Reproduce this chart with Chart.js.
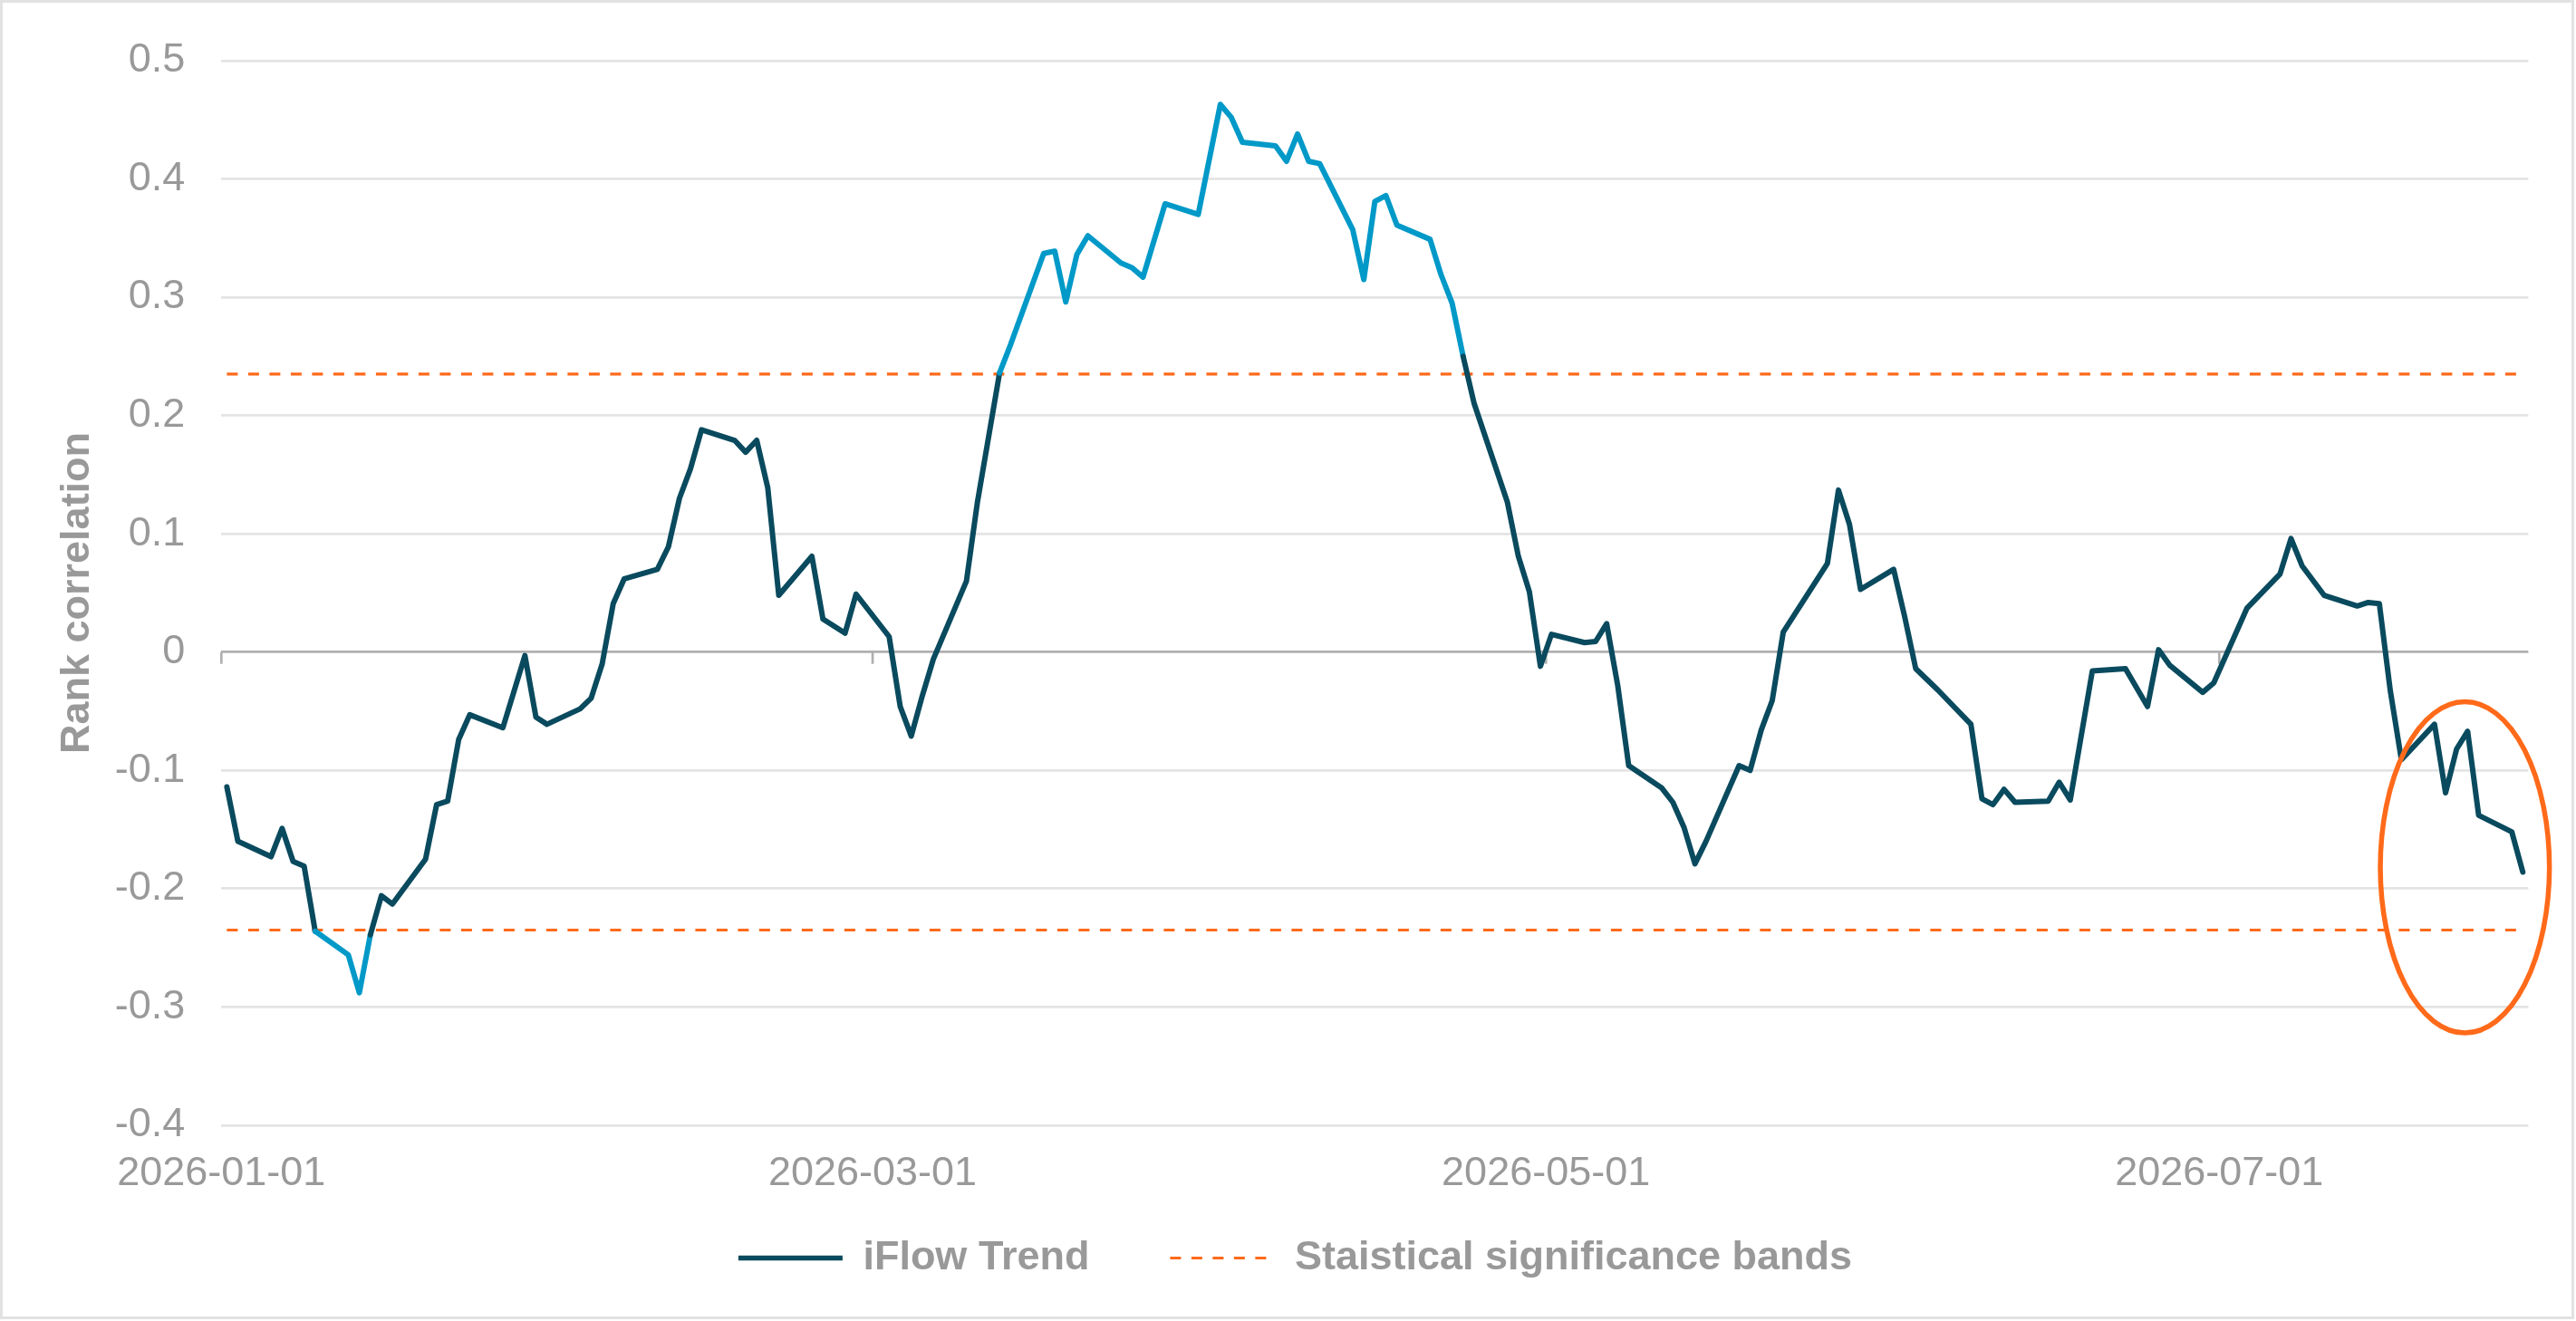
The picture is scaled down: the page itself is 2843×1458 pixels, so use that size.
<!DOCTYPE html>
<html>
<head>
<meta charset="utf-8">
<script src="https://cdn.jsdelivr.net/npm/chart.js@4.4.1/dist/chart.umd.min.js"></script>
<style>
  html, body { margin: 0; padding: 0; background: #ffffff; overflow: hidden; }
  #wrap { width: 2843px; height: 1458px; position: relative; }
</style>
</head>
<body>
<div id="wrap"><canvas id="chart" width="2843" height="1458"></canvas></div>
<script>
// ---------------- DATA ----------------
const dates = [
  '2026-01-01','2026-01-02','2026-01-05','2026-01-06','2026-01-07','2026-01-08','2026-01-09',
  '2026-01-12','2026-01-13','2026-01-14','2026-01-15','2026-01-16','2026-01-19','2026-01-20',
  '2026-01-21','2026-01-22','2026-01-23','2026-01-26','2026-01-28','2026-01-29','2026-01-30',
  '2026-02-02','2026-02-03','2026-02-04','2026-02-05','2026-02-06','2026-02-09','2026-02-10',
  '2026-02-11','2026-02-12','2026-02-13','2026-02-16','2026-02-17','2026-02-18','2026-02-19',
  '2026-02-20','2026-02-23','2026-02-24','2026-02-25','2026-02-26','2026-02-27','2026-03-02',
  '2026-03-03','2026-03-04','2026-03-05','2026-03-06','2026-03-09','2026-03-10','2026-03-12',
  '2026-03-13','2026-03-16','2026-03-17','2026-03-18','2026-03-19','2026-03-20','2026-03-23',
  '2026-03-24','2026-03-25','2026-03-27','2026-03-30','2026-04-01','2026-04-02','2026-04-03',
  '2026-04-06','2026-04-07','2026-04-08','2026-04-09','2026-04-10','2026-04-13','2026-04-14',
  '2026-04-15','2026-04-16','2026-04-17','2026-04-20','2026-04-21','2026-04-22','2026-04-23',
  '2026-04-24','2026-04-27','2026-04-28','2026-04-29','2026-04-30','2026-05-01','2026-05-04',
  '2026-05-05','2026-05-06','2026-05-07','2026-05-08','2026-05-11','2026-05-12','2026-05-13',
  '2026-05-14','2026-05-15','2026-05-18','2026-05-19','2026-05-20','2026-05-21','2026-05-22',
  '2026-05-26','2026-05-27','2026-05-28','2026-05-29','2026-06-01','2026-06-02','2026-06-03',
  '2026-06-05','2026-06-08','2026-06-09','2026-06-10','2026-06-11','2026-06-12','2026-06-15',
  '2026-06-16','2026-06-17','2026-06-19','2026-06-22','2026-06-24','2026-06-25','2026-06-26',
  '2026-06-29','2026-06-30','2026-07-03','2026-07-06','2026-07-07','2026-07-08','2026-07-10',
  '2026-07-13','2026-07-14','2026-07-15','2026-07-16','2026-07-17','2026-07-20','2026-07-21',
  '2026-07-22','2026-07-23','2026-07-24','2026-07-27','2026-07-28'
];

const iflowTrend = [
  -0.114,-0.160,-0.173,-0.149,-0.177,-0.181,-0.236,
  -0.256,-0.288,-0.239,-0.206,-0.213,-0.175,-0.129,
  -0.126,-0.074,-0.053,-0.064,-0.003,-0.055,-0.061,
  -0.048,-0.039,-0.010, 0.041, 0.062, 0.070, 0.089,
   0.130, 0.155, 0.188, 0.179, 0.169, 0.179, 0.139,
   0.048, 0.081, 0.028, 0.022, 0.016, 0.049, 0.013,
  -0.046,-0.071,-0.037,-0.006, 0.060, 0.127, 0.236,
   0.260, 0.337, 0.339, 0.296, 0.336, 0.352, 0.329,
   0.325, 0.317, 0.379, 0.370, 0.463, 0.452, 0.431,
   0.428, 0.415, 0.438, 0.415, 0.413, 0.357, 0.315,
   0.381, 0.386, 0.361, 0.349, 0.319, 0.295, 0.250,
   0.210, 0.127, 0.081, 0.051,-0.012, 0.015, 0.008,
   0.009, 0.024,-0.028,-0.096,-0.115,-0.127,-0.148,
  -0.179,-0.160,-0.096,-0.100,-0.066,-0.041, 0.017,
   0.075, 0.137, 0.108, 0.053, 0.070, 0.030,-0.014,
  -0.032,-0.061,-0.124,-0.129,-0.116,-0.127,-0.126,
  -0.110,-0.125,-0.016,-0.014,-0.046, 0.002,-0.011,
  -0.034,-0.026, 0.037, 0.066, 0.096, 0.073, 0.048,
   0.039, 0.042, 0.041,-0.033,-0.091,-0.061,-0.119,
  -0.082,-0.067,-0.138,-0.152,-0.186
];

const bandLevel = 0.235;                       // statistical significance band (+/-)
const xTickLabels = ['2026-01-01','2026-03-01','2026-05-01','2026-07-01'];
const yTickValues = [-0.4,-0.3,-0.2,-0.1,0,0.1,0.2,0.3,0.4,0.5];
const yTickLabels = ['-0.4','-0.3','-0.2','-0.1','0','0.1','0.2','0.3','0.4','0.5'];
const seriesNames = ['iFlow Trend','Staistical significance bands'];
const yAxisTitle = 'Rank correlation';
// highlighted region (ellipse) in data units
const highlightCenterDate = '2026-07-22';
const highlightCenterShiftDays = 0.75;
const highlightCenterValue = -0.182;
const highlightHalfWidthDays = 7.66;
const highlightHalfHeightValue = 0.14;

// ---------------- HELPERS ----------------
const DAY_MS = 86400000;
const ORIGIN = Date.UTC(2026, 0, 1);
const toDay = s => { const p = s.split('-').map(Number); return (Date.UTC(p[0], p[1] - 1, p[2]) - ORIGIN) / DAY_MS; };

const DARK = '#0a4a5e', LIGHT = '#0099c8', ORANGE = '#ff6a1a';
const GRID = '#e4e4e4', AXIS = '#b0b0b0', TEXT = '#999999';
const FONT = "'Liberation Sans', Arial, Helvetica, sans-serif";

const trendPoints = dates.map((d, i) => ({ x: toDay(d), y: iflowTrend[i] }));
const firstDay = toDay(dates[0]), lastDay = toDay(dates[dates.length - 1]);
const bandUpper = [dates[0], dates[dates.length - 1]].map(d => ({ x: toDay(d), y: bandLevel }));
const bandLower = [dates[0], dates[dates.length - 1]].map(d => ({ x: toDay(d), y: -bandLevel }));
const xTickValues = xTickLabels.map(d => toDay(d) - 0.5);

// ---------------- PLUGINS ----------------
const framePlugin = {
  id: 'frame',
  afterDraw(chart) {
    const ctx = chart.ctx;
    ctx.save();
    ctx.strokeStyle = '#e2e2e2';
    ctx.lineWidth = 3;
    ctx.strokeRect(1.5, 1.5, chart.width - 5, chart.height - 5);
    ctx.restore();
  }
};

const zeroTickPlugin = {
  id: 'zeroTicks',
  beforeDatasetsDraw(chart) {
    const { ctx, scales: { x, y } } = chart;
    const y0 = y.getPixelForValue(0);
    ctx.save();
    ctx.strokeStyle = AXIS;
    ctx.lineWidth = 2.7;
    xTickValues.forEach(v => {
      const px = x.getPixelForValue(v);
      ctx.beginPath();
      ctx.moveTo(px, y0);
      ctx.lineTo(px, y0 + 13);
      ctx.stroke();
    });
    ctx.restore();
  }
};

const ellipsePlugin = {
  id: 'highlightEllipse',
  afterDatasetsDraw(chart) {
    const { ctx, scales: { x, y } } = chart;
    const cd = toDay(highlightCenterDate) + highlightCenterShiftDays;
    const cx = x.getPixelForValue(cd);
    const cy = y.getPixelForValue(highlightCenterValue);
    const rx = Math.abs(x.getPixelForValue(cd + highlightHalfWidthDays) - cx);
    const ry = Math.abs(y.getPixelForValue(highlightCenterValue + highlightHalfHeightValue) - cy);
    ctx.save();
    ctx.strokeStyle = ORANGE;
    ctx.lineWidth = 5.5;
    ctx.beginPath();
    ctx.ellipse(cx, cy, rx, ry, 0, 0, Math.PI * 2);
    ctx.stroke();
    ctx.restore();
  }
};

// ---------------- CHART ----------------
new Chart(document.getElementById('chart'), {
  type: 'line',
  data: {
    datasets: [
      {
        label: seriesNames[0],
        data: trendPoints,
        borderColor: DARK,
        backgroundColor: DARK,
        borderWidth: 6,
        pointRadius: 0,
        pointHoverRadius: 0,
        tension: 0,
        borderJoinStyle: 'round',
        borderCapStyle: 'round',
        segment: {
          borderColor: c => (Math.abs(c.p0.parsed.y) >= bandLevel && Math.abs(c.p1.parsed.y) >= bandLevel) ? LIGHT : DARK
        }
      },
      {
        label: seriesNames[1],
        data: bandUpper,
        borderColor: ORANGE,
        backgroundColor: ORANGE,
        borderWidth: 3.2,
        borderDash: [12, 11.5],
        borderCapStyle: 'butt',
        pointRadius: 0,
        pointHoverRadius: 0
      },
      {
        label: seriesNames[1] + ' (lower)',
        data: bandLower,
        borderColor: ORANGE,
        backgroundColor: ORANGE,
        borderWidth: 3.2,
        borderDash: [12, 11.5],
        borderCapStyle: 'butt',
        pointRadius: 0,
        pointHoverRadius: 0
      }
    ]
  },
  options: {
    responsive: false,
    animation: false,
    devicePixelRatio: 1,
    layout: { padding: { left: 68.6, right: 52.6, top: 51.2, bottom: 37 } },
    plugins: {
      tooltip: { enabled: false },
      legend: {
        position: 'bottom',
        align: 'center',
        labels: {
          usePointStyle: true,
          pointStyle: 'line',
          pointStyleWidth: 115,
          padding: 89,
          color: TEXT,
          font: { family: FONT, size: 45, weight: 'bold' },
          generateLabels: chart => Chart.defaults.plugins.legend.labels.generateLabels(chart).map(item => {
            const ds = chart.data.datasets[item.datasetIndex];
            item.lineDash = ds.borderDash || [];
            item.lineWidth = item.datasetIndex === 0 ? 5.5 : 3.2;
            item.strokeStyle = ds.borderColor;
            item.lineCap = 'butt';
            item.pointStyle = 'line';
            return item;
          }),
          filter: item => item.datasetIndex !== 2
        }
      }
    },
    scales: {
      x: {
        type: 'linear',
        min: firstDay - 0.5,
        max: lastDay + 0.5,
        afterBuildTicks: s => { s.ticks = xTickValues.map(v => ({ value: v })); },
        afterFit: s => { s.height = 35.1; },
        grid: { display: false, drawTicks: false },
        border: { display: false },
        ticks: {
          autoSkip: false,
          maxRotation: 0,
          minRotation: 0,
          mirror: true,
          padding: -80.6,
          color: TEXT,
          font: { family: FONT, size: 45 },
          callback: (v, i) => xTickLabels[i]
        }
      },
      y: {
        min: -0.4,
        max: 0.5,
        afterBuildTicks: s => { s.ticks = yTickValues.map(v => ({ value: v })); },
        afterFit: s => { s.width = 244.3 - 68.6; },
        grid: {
          drawTicks: false,
          lineWidth: 2.7,
          color: c => (c.tick && Math.abs(c.tick.value) < 1e-9) ? AXIS : GRID
        },
        border: { display: false },
        ticks: {
          padding: 40,
          color: TEXT,
          font: { family: FONT, size: 45 },
          callback: (v, i) => yTickLabels[i]
        },
        title: {
          display: true,
          text: yAxisTitle,
          color: TEXT,
          padding: 0,
          font: { family: FONT, size: 45, weight: 'bold', lineHeight: 0.75 }
        }
      }
    }
  },
  plugins: [zeroTickPlugin, ellipsePlugin, framePlugin]
});
</script>
</body>
</html>
